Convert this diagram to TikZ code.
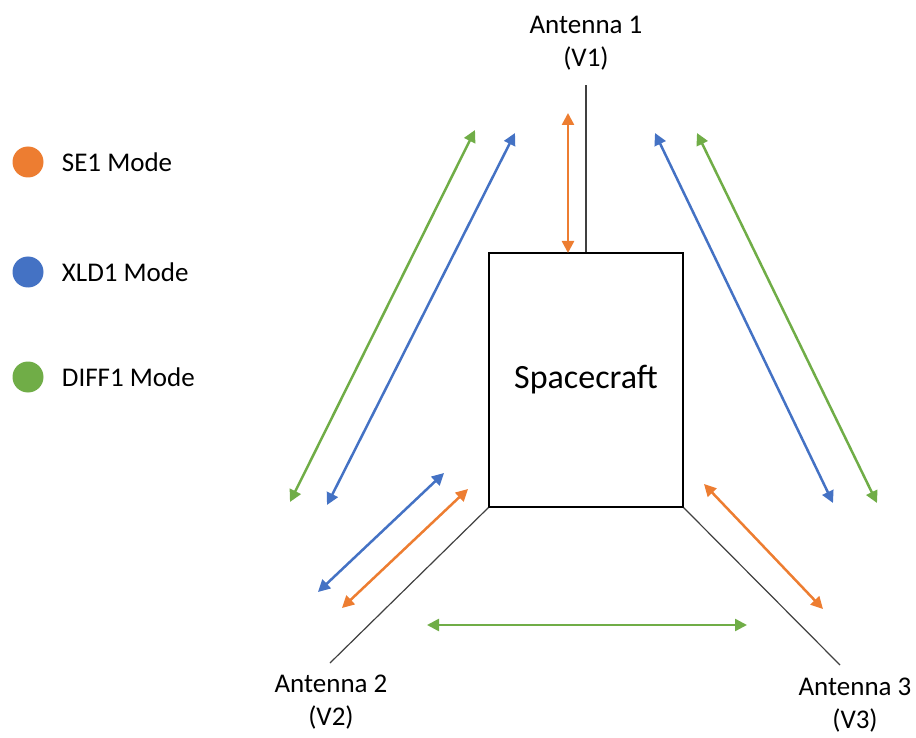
\documentclass[tikz,border=0pt]{standalone}
\usepackage{fontspec}
\setmainfont{Carlito}
\usepackage{xcolor}
\usetikzlibrary{arrows.meta, positioning, calc}

\definecolor{seorange}{HTML}{ED7D31}
\definecolor{xldblue}{HTML}{4472C4}
\definecolor{diffgreen}{HTML}{70AD47}

\begin{document}
\begin{tikzpicture}[x=1pt, y=-1pt, % pixel-like units, y pointing down
		label/.style={align=center, font=\fontsize{27}{33}\selectfont, inner sep=0pt},
		craftbox/.style={rectangle, draw=black, line width=1.3pt, minimum width=194pt, minimum height=254pt, font=\fontsize{34}{40}\selectfont},
		mast/.style={draw=black!75, line width=1.2pt},
		link/.style={{Triangle[length=12pt, width=12pt]}-{Triangle[length=12pt, width=12pt]}, line width=2.5pt},
		dot/.style={circle, minimum size=31pt, inner sep=0pt},
		legtext/.style={font=\fontsize{27}{33}\selectfont, anchor=west, inner sep=0pt}
		]
		\useasboundingbox (0,0) rectangle (916,738);
		
		% Spacecraft body
		\node[craftbox] (craft) at (586,380) {Spacecraft};
		
		% Antennas
		\node[label] (ant1) at (586,43) {Antenna 1\\(V1)};
		\node[label] (ant2) at (331,702) {Antenna 2\\(V2)};
		\node[label] (ant3) at (855,705) {Antenna 3\\(V3)};
		\coordinate (tip1) at (586,85);
		\coordinate (tip2) at (330,663);
		\coordinate (tip3) at (840,665);
		\draw[mast] (craft.north) -- (tip1);
		\draw[mast] (craft.south west) -- (tip2);
		\draw[mast] (craft.south east) -- (tip3);
		
		% SE1 mode links
		\coordinate (se1a) at (568,113);
		\coordinate (se1b) at (568,253);
		\coordinate (se2a) at (342,608);
		\coordinate (se2b) at (468,489);
		\coordinate (se3a) at (704,484);
		\coordinate (se3b) at (823,609);
		\draw[link, seorange] (se1a) -- (se1b);
		\draw[link, seorange] (se2a) -- (se2b);
		\draw[link, seorange] (se3a) -- (se3b);
		
		% XLD1 mode links
		\coordinate (xl1a) at (327,505);
		\coordinate (xl1b) at (515,133);
		\coordinate (xl2a) at (655,133);
		\coordinate (xl2b) at (833,503);
		\coordinate (xl3a) at (318,592);
		\coordinate (xl3b) at (444,473);
		\draw[link, xldblue] (xl1a) -- (xl1b);
		\draw[link, xldblue] (xl2a) -- (xl2b);
		\draw[link, xldblue] (xl3a) -- (xl3b);
		
		% DIFF1 mode links
		\coordinate (df1a) at (290,502);
		\coordinate (df1b) at (475,130);
		\coordinate (df2a) at (697,133);
		\coordinate (df2b) at (877,503);
		\coordinate (df3a) at (427,625);
		\coordinate (df3b) at (747,625);
		\draw[link, diffgreen] (df1a) -- (df1b);
		\draw[link, diffgreen] (df2a) -- (df2b);
		\draw[link, diffgreen] (df3a) -- (df3b);
		
		% Legend
		\node[dot, fill=seorange] (dotse) at (28,162) {};
		\node[legtext, right=18pt of dotse] (legse) {SE1 Mode};
		\node[dot, fill=xldblue] (dotxl) at (28,272) {};
		\node[legtext, right=18pt of dotxl] (legxl) {XLD1 Mode};
		\node[dot, fill=diffgreen] (dotdf) at (28,377) {};
		\node[legtext, right=18pt of dotdf] (legdf) {DIFF1 Mode};
		
	\end{tikzpicture}
\end{document}
